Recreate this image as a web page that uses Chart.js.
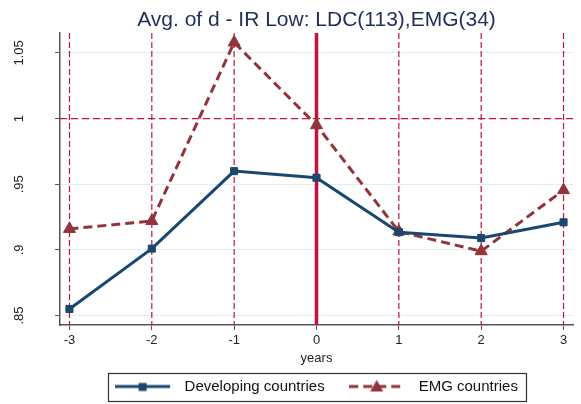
<!DOCTYPE html>
<html>
<head>
<meta charset="utf-8">
<script src="https://cdn.jsdelivr.net/npm/chart.js@4"></script>
<style>
html, body { margin: 0; padding: 0; background: #fff; }
</style>
</head>
<body>
<canvas id="myChart" width="581" height="404"></canvas>
<script>
// data
var years = [-3, -2, -1, 0, 1, 2, 3];
var developing = [0.855, 0.901, 0.960, 0.955, 0.9135, 0.909, 0.921];
var emg = [0.916, 0.922, 1.058, 0.995, 0.914, 0.899, 0.9455];
var yTicks = [0.85, 0.9, 0.95, 1, 1.05];
var refYear = 0;
var refLevel = 1;

var navy = "#1a476f";
var maroon = "#90353b";
var crimson = "#c8103e";
var font = "'Liberation Sans', Arial, sans-serif";

function toPoints(vals) {
    var pts = [];
    for (var i = 0; i < years.length; i++) {
        pts.push({ x: years[i], y: vals[i] });
    }
    return pts;
}

// legend sample: line with a marker in the middle
function legendSample(color, dash, marker) {
    var c = document.createElement("canvas");
    c.width = 62;
    c.height = 16;
    var g = c.getContext("2d");
    g.strokeStyle = color;
    g.fillStyle = color;
    g.lineWidth = 3;
    g.setLineDash(dash);
    g.beginPath();
    g.moveTo(0, 8);
    g.lineTo(55, 8);
    g.stroke();
    g.setLineDash([]);
    if (marker == "rect") {
        g.fillRect(23.5, 4.5, 8, 8);
    } else {
        g.beginPath();
        g.moveTo(27.5, 1.5);
        g.lineTo(34, 13);
        g.lineTo(21, 13);
        g.closePath();
        g.fill();
    }
    return c;
}

//vertical year lines and the horizontal reference line
var refLines = {
    id: "refLines",
    beforeDatasetsDraw: function(chart) {
        var ctx = chart.ctx;
        var area = chart.chartArea;
        var xs = chart.scales.x;
        var ys = chart.scales.y;
        ctx.save();
        ctx.strokeStyle = crimson;
        for (var i = 0; i < years.length; i++) {
            var px = xs.getPixelForValue(years[i]);
            ctx.beginPath();
            if (years[i] == refYear) {
                ctx.setLineDash([]);
                ctx.lineWidth = 3.5;
            } else {
                ctx.setLineDash([6, 3]);
                ctx.lineWidth = 1.2;
            }
            ctx.moveTo(px, area.top);
            ctx.lineTo(px, area.bottom);
            ctx.stroke();
        }
        var py = ys.getPixelForValue(refLevel);
        ctx.setLineDash([7, 4]);
        ctx.lineWidth = 1.2;
        ctx.beginPath();
        ctx.moveTo(area.left, py);
        ctx.lineTo(area.right, py);
        ctx.stroke();
        ctx.restore();
    }
};

//box round the legend
var legendBox = {
    id: "legendBox",
    afterDraw: function(chart) {
        var boxes = chart.legend.legendHitBoxes;
        if (!boxes || !boxes.length) return;
        var first = boxes[0];
        var last = boxes[boxes.length - 1];
        var cy = first.top + first.height / 2;
        var ctx = chart.ctx;
        ctx.save();
        ctx.strokeStyle = "#333";
        ctx.lineWidth = 1.2;
        ctx.strokeRect(Math.round(first.left) - 6.5, Math.round(cy) - 13.5,
            Math.round(last.left + last.width - first.left) + 15, 28);
        ctx.restore();
    }
};

var samples = [legendSample(navy, [], "rect"), legendSample(maroon, [9, 5], "tri")];

var ctx = document.getElementById("myChart");
var myChart = new Chart(ctx, {
    type: "line",
    data: {
        datasets: [{
            label: "Developing countries",
            data: toPoints(developing),
            borderColor: navy,
            backgroundColor: navy,
            borderWidth: 3,
            pointStyle: "rect",
            pointRadius: 5,
            pointBorderWidth: 1,
            tension: 0
        }, {
            label: "EMG countries",
            data: toPoints(emg),
            borderColor: maroon,
            backgroundColor: maroon,
            borderWidth: 3,
            borderDash: [9, 5],
            pointStyle: "triangle",
            pointRadius: 7,
            pointBorderWidth: 1,
            tension: 0
        }]
    },
    options: {
        responsive: false,
        animation: false,
        devicePixelRatio: 1,
        layout: { padding: { right: 4 } },
        plugins: {
            title: {
                display: true,
                text: "Avg. of d - IR Low: LDC(113),EMG(34)",
                fullSize: false,
                color: "#1e2f57",
                font: { family: font, size: 21, weight: "normal" },
                padding: { top: 7.5, bottom: 0.3 }
            },
            legend: {
                position: "bottom",
                fullSize: false,
                labels: {
                    usePointStyle: true,
                    pointStyleWidth: 62,
                    padding: 12,
                    color: "#111",
                    font: { family: font, size: 15 },
                    generateLabels: function(chart) {
                        return chart.data.datasets.map(function(ds, i) {
                            return {
                                text: i == 0 ? ds.label + "   " : ds.label,
                                pointStyle: samples[i],
                                fontColor: "#111",
                                lineWidth: 0,
                                hidden: false,
                                datasetIndex: i
                            };
                        });
                    }
                }
            },
            tooltip: { enabled: false }
        },
        scales: {
            x: {
                type: "linear",
                min: -3.115,
                max: 3.115,
                afterBuildTicks: function(scale) {
                    scale.ticks = years.map(function(v) { return { value: v }; });
                },
                afterFit: function(scale) { scale.height = 42; },
                grid: { drawOnChartArea: false, drawTicks: true, tickLength: 5, tickColor: "#555", tickWidth: 1 },
                border: { color: "#555", width: 1.5 },
                ticks: {
                    padding: 3,
                    color: "#222",
                    font: { family: font, size: 13 },
                    maxRotation: 0
                },
                title: {
                    display: true,
                    text: "years",
                    color: "#222",
                    font: { family: font, size: 13 },
                    padding: { top: 1, bottom: 1 }
                }
            },
            y: {
                min: 0.8428,
                max: 1.0652,
                afterBuildTicks: function(scale) {
                    scale.ticks = yTicks.map(function(v) { return { value: v }; });
                },
                afterFit: function(scale) { scale.width = 60; },
                grid: { color: "#e3ecef", lineWidth: 1, drawTicks: true, tickLength: 5, tickColor: "#555", tickWidth: 1 },
                border: { color: "#555", width: 1.5 },
                ticks: {
                    minRotation: 90,
                    maxRotation: 90,
                    crossAlign: "center",
                    padding: 23,
                    color: "#222",
                    font: { family: font, size: 13 },
                    callback: function(v) {
                        return String(+v.toFixed(2)).replace(/^0\./, ".");
                    }
                }
            }
        }
    },
    plugins: [refLines, legendBox]
});
</script>
</body>
</html>
